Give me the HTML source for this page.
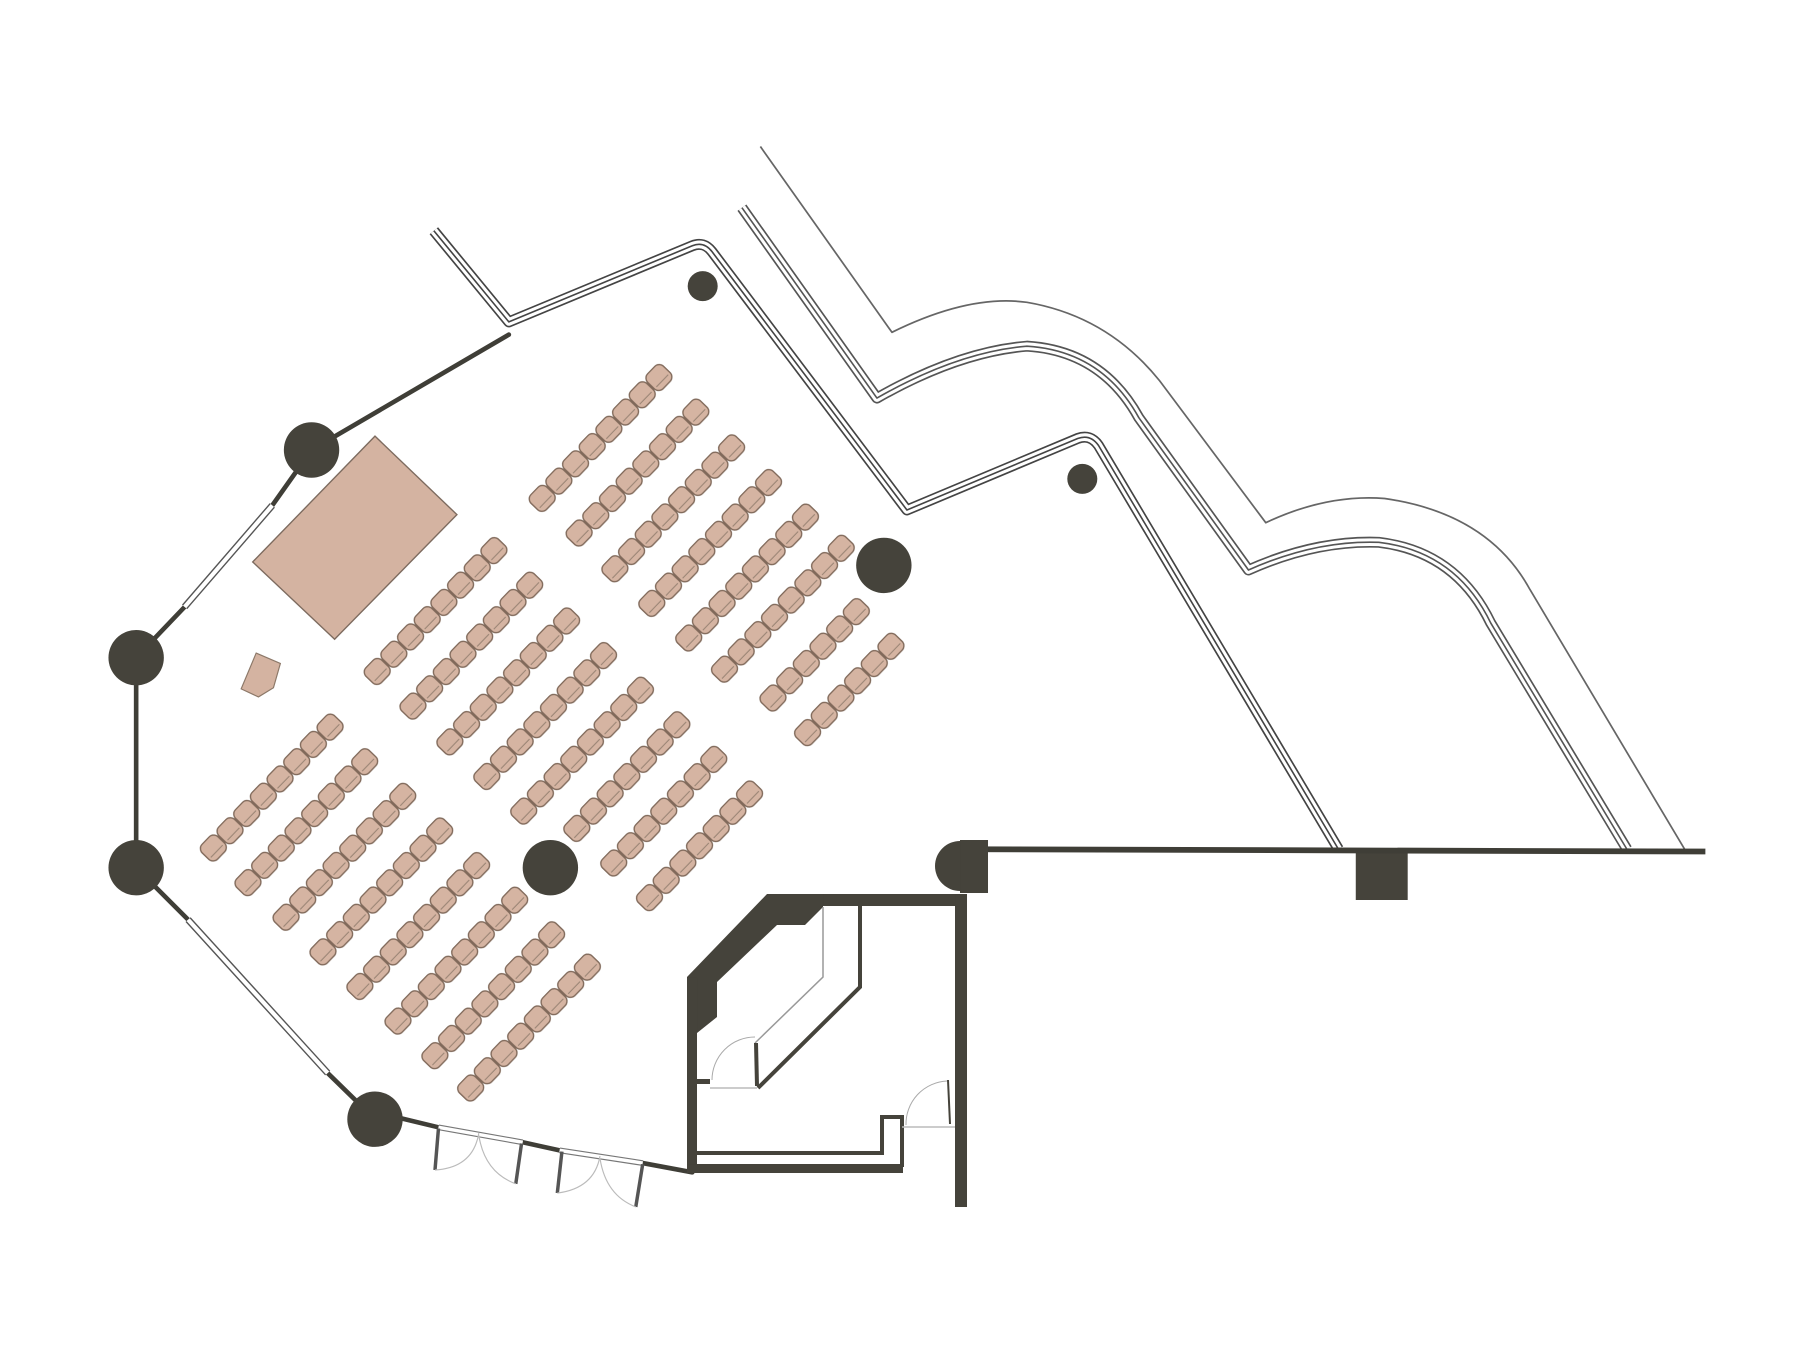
<!DOCTYPE html>
<html><head><meta charset="utf-8"><style>html,body{margin:0;padding:0;background:#fff}svg{display:block}</style></head>
<body>
<svg width="1800" height="1350" viewBox="0 0 1560 1170" xmlns="http://www.w3.org/2000/svg">
<defs>
<pattern id="ch" patternUnits="userSpaceOnUse" x="-10.4" y="-10" width="20.8" height="20">
<rect x="0.6" y="0.6" width="19.6" height="18.6" rx="5.5" fill="#d5b4a2" stroke="#80695a" stroke-width="1.2"/>
<line x1="3" y1="14" x2="17.8" y2="14" stroke="#9c8676" stroke-width="1"/>
</pattern>
</defs>
<rect width="1560" height="1170" fill="#fff"/>

<!-- triple lines -->
<g fill="none" stroke-linejoin="round">
<path d="M376,200 L441,279 L600,213 Q610,209 617,218 L786,442 L934,380 Q945,376 952,386 L1160,736" stroke="#444" stroke-width="9.5"/>
<path d="M376,200 L441,279 L600,213 Q610,209 617,218 L786,442 L934,380 Q945,376 952,386 L1160,736" stroke="#fff" stroke-width="6.6"/>
<path d="M376,200 L441,279 L600,213 Q610,209 617,218 L786,442 L934,380 Q945,376 952,386 L1160,736" stroke="#444" stroke-width="1.4"/>
<path d="M643,180 L760,345 Q830,305 890,300 Q955,304 987,362 L1082,494 Q1140,468 1195,470 Q1262,478 1292,540 L1410,736" stroke="#555" stroke-width="9.5"/>
<path d="M643,180 L760,345 Q830,305 890,300 Q955,304 987,362 L1082,494 Q1140,468 1195,470 Q1262,478 1292,540 L1410,736" stroke="#fff" stroke-width="6.6"/>
<path d="M643,180 L760,345 Q830,305 890,300 Q955,304 987,362 L1082,494 Q1140,468 1195,470 Q1262,478 1292,540 L1410,736" stroke="#555" stroke-width="1.4"/>
<path d="M659,127 L773,288 Q840,255 890,262 Q960,274 1005,330 L1097,453 Q1150,428 1200,432 Q1290,445 1326,511 L1460,736" stroke="#666" stroke-width="1.5"/>
</g>

<!-- outer walls -->
<g stroke="#3f3e37" fill="none" stroke-linecap="round">
<line x1="441" y1="290" x2="270" y2="390" stroke-width="4"/>
<line x1="270" y1="390" x2="236" y2="438" stroke-width="4"/>
<line x1="160" y1="526" x2="118" y2="570" stroke-width="4"/>
<line x1="118" y1="570" x2="118" y2="752" stroke-width="4"/>
<line x1="118" y1="752" x2="163" y2="797" stroke-width="4"/>
<line x1="284" y1="930" x2="325" y2="970" stroke-width="4"/>
<line x1="347" y1="969" x2="380" y2="977" stroke-width="4"/>
<line x1="453" y1="990" x2="485" y2="997" stroke-width="4"/>
<line x1="557" y1="1008" x2="600" y2="1016" stroke-width="4"/>
</g>
<!-- windows -->
<g fill="none">
<line x1="236" y1="438" x2="160" y2="526" stroke="#555" stroke-width="6"/>
<line x1="236" y1="438" x2="160" y2="526" stroke="#fff" stroke-width="3.6"/>
<line x1="163" y1="797" x2="284" y2="930" stroke="#555" stroke-width="6"/>
<line x1="163" y1="797" x2="284" y2="930" stroke="#fff" stroke-width="3.6"/>
<line x1="380" y1="977" x2="453" y2="990" stroke="#777" stroke-width="5"/>
<line x1="380" y1="977" x2="453" y2="990" stroke="#fff" stroke-width="3"/>
<line x1="485" y1="997" x2="557" y2="1008" stroke="#777" stroke-width="5"/>
<line x1="485" y1="997" x2="557" y2="1008" stroke="#fff" stroke-width="3"/>
</g>
<!-- bottom doors -->
<g stroke="#555" fill="none">
<line x1="380" y1="978" x2="377" y2="1014" stroke-width="3"/>
<line x1="452" y1="991" x2="447" y2="1026" stroke-width="3"/>
<line x1="487" y1="998" x2="483" y2="1034" stroke-width="3"/>
<line x1="557" y1="1009" x2="551" y2="1046" stroke-width="3"/>
<path d="M377,1014 Q410,1012 415,982" stroke="#bbb" stroke-width="1"/>
<path d="M447,1026 Q420,1016 415,984" stroke="#bbb" stroke-width="1"/>
<path d="M483,1034 Q515,1030 520,1002" stroke="#bbb" stroke-width="1"/>
<path d="M551,1046 Q525,1036 520,1004" stroke="#bbb" stroke-width="1"/>
</g>

<!-- columns -->
<g fill="#45433b">
<circle cx="270" cy="390" r="24"/>
<circle cx="118" cy="570" r="24"/>
<circle cx="118" cy="752" r="24"/>
<circle cx="325" cy="970" r="24"/>
<circle cx="477" cy="752" r="24"/>
<circle cx="766" cy="490" r="24"/>
<circle cx="609" cy="248" r="13"/>
<circle cx="938" cy="415" r="13"/>
<rect x="1175" y="736" width="45" height="44"/>
</g>
<line x1="840" y1="736" x2="1478" y2="738" stroke="#3f3e37" stroke-width="5"/>

<!-- stage -->
<polygon points="325,378 396,446 290,554 219,487" fill="#d4b3a1" stroke="#7d6b5f" stroke-width="1.2"/>
<polygon points="222,566 243,575 237,596 224,604 209,597" fill="#d4b3a1" stroke="#8c7868" stroke-width="1"/>

<!-- room (full coords) -->
<g transform="scale(0.86667)">
<g fill="#45433b">
<circle cx="960" cy="866" r="25"/>
<rect x="960" y="840" width="28" height="53"/>
<rect x="767" y="894" width="193" height="12"/>
<polygon points="687,977 767,894 823,894 823,907 805,925 777,925 717,982 717,1017 697,1033 687,1033"/>
<rect x="687" y="977" width="10" height="196"/>
<rect x="687" y="1164" width="216" height="9"/>
<rect x="955" y="894" width="12" height="313"/>
<rect x="697" y="1079" width="13" height="5"/>
</g>
<g fill="none" stroke-linejoin="miter">
<path d="M693,1153 L882,1153 L882,1117 L902,1117 L902,1167" stroke="#45433b" stroke-width="4"/>
<path d="M823,907 L823,977 L755,1043" stroke="#999" stroke-width="1.5"/>
<path d="M860,905 L860,987 L758,1088" stroke="#45433b" stroke-width="4"/>
<line x1="756" y1="1043" x2="757" y2="1086" stroke="#45433b" stroke-width="4"/>
<line x1="710" y1="1088" x2="757" y2="1088" stroke="#bbb" stroke-width="1.5"/>
<path d="M712,1080 A43,43 0 0 1 755,1037" stroke="#aaa" stroke-width="1"/>
<line x1="902" y1="1127" x2="955" y2="1127" stroke="#bbb" stroke-width="1.5"/>
<line x1="948" y1="1080" x2="950" y2="1124" stroke="#45433b" stroke-width="2"/>
<path d="M906,1125 A43,43 0 0 1 947,1081" stroke="#aaa" stroke-width="1"/>
</g>
</g>

<!-- seats -->
<g fill="url(#ch)">
<g transform="translate(470,432) rotate(-46)"><rect x="-10.4" y="-10" width="166.4" height="20"/></g>
<g transform="translate(502,462) rotate(-46)"><rect x="-10.4" y="-10" width="166.4" height="20"/></g>
<g transform="translate(533,493) rotate(-46)"><rect x="-10.4" y="-10" width="166.4" height="20"/></g>
<g transform="translate(565,523) rotate(-46)"><rect x="-10.4" y="-10" width="166.4" height="20"/></g>
<g transform="translate(597,553) rotate(-46)"><rect x="-10.4" y="-10" width="166.4" height="20"/></g>
<g transform="translate(628,580) rotate(-46)"><rect x="-10.4" y="-10" width="166.4" height="20"/></g>
<g transform="translate(670,605) rotate(-46)"><rect x="-10.4" y="-10" width="124.8" height="20"/></g>
<g transform="translate(700,635) rotate(-46)"><rect x="-10.4" y="-10" width="124.8" height="20"/></g>

<g transform="translate(327,582) rotate(-46)"><rect x="-10.4" y="-10" width="166.4" height="20"/></g>
<g transform="translate(358,612) rotate(-46)"><rect x="-10.4" y="-10" width="166.4" height="20"/></g>
<g transform="translate(390,643) rotate(-46)"><rect x="-10.4" y="-10" width="166.4" height="20"/></g>
<g transform="translate(422,673) rotate(-46)"><rect x="-10.4" y="-10" width="166.4" height="20"/></g>
<g transform="translate(454,703) rotate(-46)"><rect x="-10.4" y="-10" width="166.4" height="20"/></g>
<g transform="translate(500,718) rotate(-46)"><rect x="-10.4" y="-10" width="145.6" height="20"/></g>
<g transform="translate(532,748) rotate(-46)"><rect x="-10.4" y="-10" width="145.6" height="20"/></g>
<g transform="translate(563,778) rotate(-46)"><rect x="-10.4" y="-10" width="145.6" height="20"/></g>

<g transform="translate(185,735) rotate(-46)"><rect x="-10.4" y="-10" width="166.4" height="20"/></g>
<g transform="translate(215,765) rotate(-46)"><rect x="-10.4" y="-10" width="166.4" height="20"/></g>
<g transform="translate(248,795) rotate(-46)"><rect x="-10.4" y="-10" width="166.4" height="20"/></g>
<g transform="translate(280,825) rotate(-46)"><rect x="-10.4" y="-10" width="166.4" height="20"/></g>
<g transform="translate(312,855) rotate(-46)"><rect x="-10.4" y="-10" width="166.4" height="20"/></g>
<g transform="translate(345,885) rotate(-46)"><rect x="-10.4" y="-10" width="166.4" height="20"/></g>
<g transform="translate(377,915) rotate(-46)"><rect x="-10.4" y="-10" width="166.4" height="20"/></g>
<g transform="translate(408,943) rotate(-46)"><rect x="-10.4" y="-10" width="166.4" height="20"/></g>
</g>
</svg>
</body></html>
